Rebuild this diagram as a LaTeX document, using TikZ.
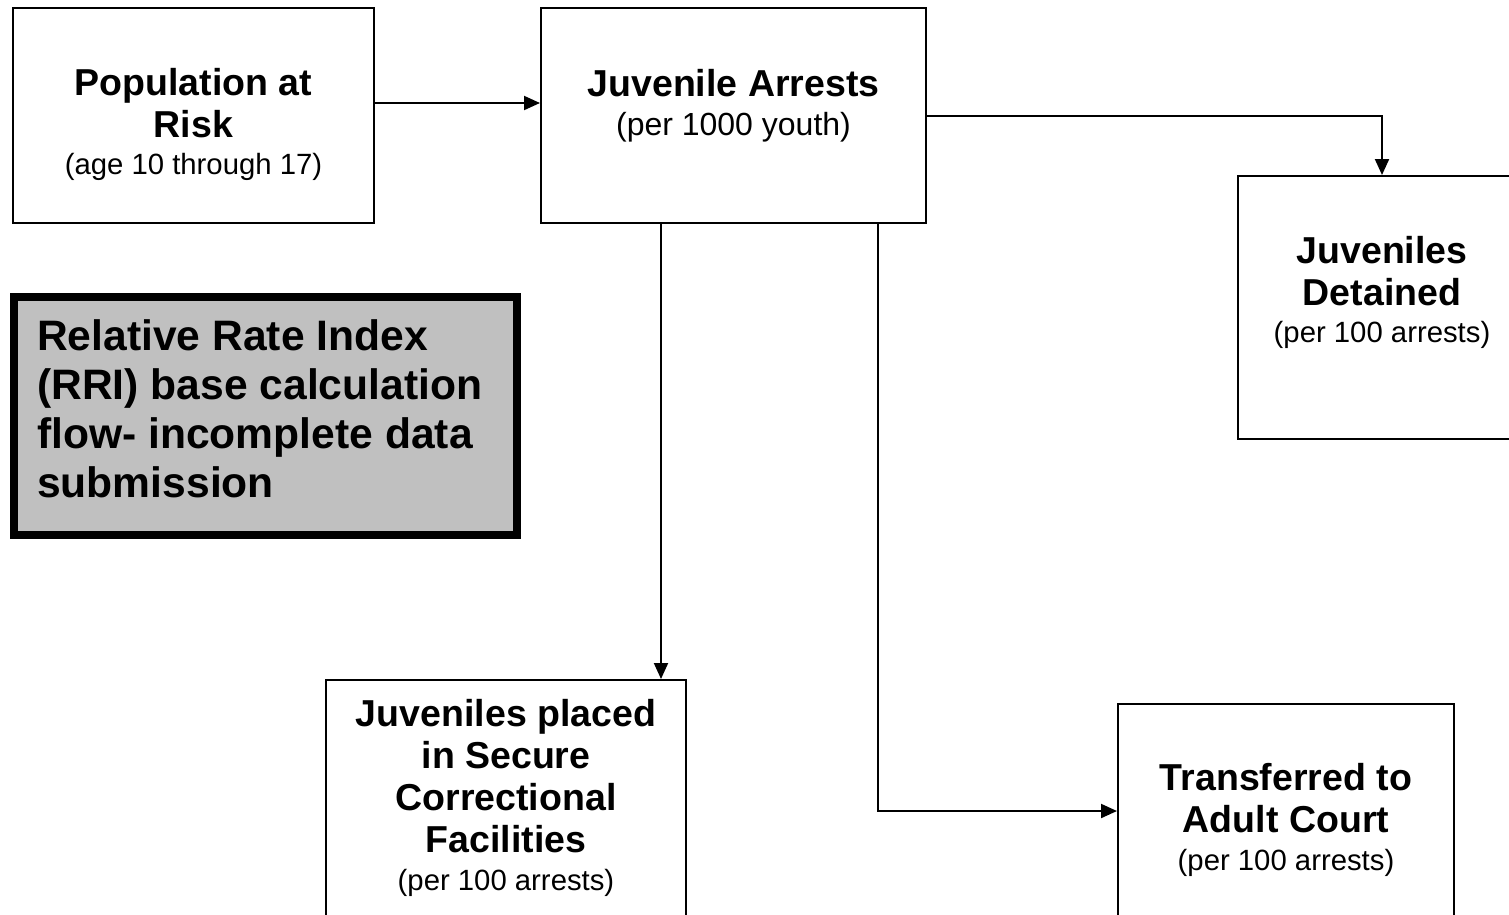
\documentclass[tikz,border=0pt]{standalone}
\usepackage{fontspec}
\setmainfont{Liberation Sans}
\usetikzlibrary{arrows.meta}
\definecolor{rrigray}{RGB}{192,192,192}
\tikzset{
  box/.style={draw=black, line width=2pt, fill=white, rectangle, inner sep=0pt},
  boxtext/.style={align=center, inner sep=0pt, font=\fontsize{37.5}{42}\selectfont\bfseries},
  conn/.style={line width=2pt, -{Triangle[length=16pt,width=14pt]}},
}
\newcommand{\sm}[2][29.3]{{\fontsize{#1}{42}\selectfont\mdseries #2}}
\begin{document}
\begin{tikzpicture}[x=1pt,y=-1pt]
\useasboundingbox (0,0) rectangle (1509,914);
\clip (0,0) rectangle (1509,914);
\fill[white] (0,0) rectangle (1509,914);
% boxes
\node[box, minimum width=361pt, minimum height=215pt] (pop) at (193.5,115.5) {};
\node[box, minimum width=385pt, minimum height=215pt] (arr) at (733.5,115.5) {};
\node[box, minimum width=288pt, minimum height=263pt] (det) at (1382,307.5) {};
\node[box, minimum width=360pt, minimum height=260pt] (sec) at (506,810) {};
\node[box, minimum width=336pt, minimum height=236pt] (tra) at (1286,822) {};
\node[draw=black, line width=8pt, fill=rrigray, minimum width=503pt, minimum height=238pt, inner sep=0pt] (rri) at (265.5,416) {};
% texts
\node[boxtext] (popt) at (193.5,124) {Population at\\Risk\\[-5pt]\sm{(age 10 through 17)}};
\node[boxtext] (arrt) at (733.5,106) {Juvenile Arrests\\[-3pt]\sm[32]{(per 1000 youth)}};
\node[boxtext] (dett) at (1382,292) {Juveniles\\Detained\\[-5pt]\sm{(per 100 arrests)}};
\node[boxtext] (sect) at (506,798) {Juveniles placed\\in Secure\\Correctional\\Facilities\\[-4pt]\sm{(per 100 arrests)}};
\node[boxtext] (trat) at (1286,820) {Transferred to\\Adult Court\\[-4pt]\sm{(per 100 arrests)}};
\node[align=left, anchor=west, inner sep=0pt, font=\fontsize{42.6}{49}\selectfont\bfseries] (rrit) at (37,409)
  {Relative Rate Index\\(RRI) base calculation\\flow- incomplete data\\submission};
% connectors
\draw[conn] (pop.east |- 0,103) -- (arr.west |- 0,103);
\draw[conn] (arr.east |- 0,116) -| (det.north);
\draw[conn] (arr.south -| 661,0) -- (sec.north -| 661,0);
\draw[conn] (arr.south -| 878,0) |- (tra.west |- 0,811);
\end{tikzpicture}
\end{document}
